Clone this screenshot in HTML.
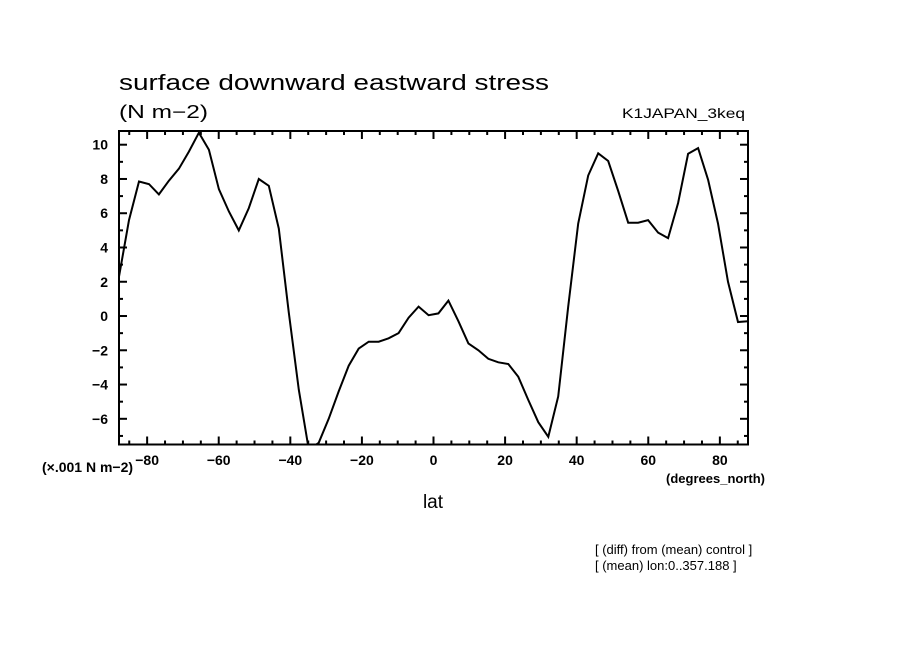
<!DOCTYPE html>
<html><head><meta charset="utf-8">
<style>
html,body{margin:0;padding:0;background:#fff;}
svg text{font-family:"Liberation Sans",sans-serif;fill:#000;}
</style></head>
<body>
<svg id="chart" width="904" height="654" xmlns="http://www.w3.org/2000/svg">
<rect width="904" height="654" fill="#fff"/>
<text x="119" y="90" font-size="22" textLength="430" lengthAdjust="spacingAndGlyphs">surface downward eastward stress</text>
<text x="119" y="118" font-size="18" textLength="89" lengthAdjust="spacingAndGlyphs">(N m−2)</text>
<text x="745" y="118" font-size="14" text-anchor="end" textLength="123" lengthAdjust="spacingAndGlyphs">K1JAPAN_3keq</text>
<g id="ticks"></g>
<g id="labels" font-size="14" font-weight="bold"></g>
<defs><clipPath id="clip"><rect x="119" y="131" width="629" height="313.5"/></clipPath></defs>
<path id="series" fill="none" stroke="#000" stroke-width="2" clip-path="url(#clip)"/>
<rect x="119" y="131" width="629" height="313.5" fill="none" stroke="#000" stroke-width="2"/>
<text x="42" y="472" font-size="14" font-weight="bold">(×.001 N m−2)</text>
<text x="765" y="483" font-size="13" font-weight="bold" text-anchor="end">(degrees_north)</text>
<text x="433" y="508" font-size="19" text-anchor="middle">lat</text>
<text x="595" y="554" font-size="13">[ (diff) from (mean) control ]</text>
<text x="595" y="570" font-size="13">[ (mean) lon:0..357.188 ]</text>
</svg>
<script>
const lats = [-87.86,-85.07,-82.28,-79.49,-76.70,-73.91,-71.12,-68.33,-65.54,-62.75,-59.96,-57.17,-54.38,-51.59,-48.80,-46.01,-43.22,-40.43,-37.64,-34.85,-32.06,-29.27,-26.48,-23.69,-20.90,-18.11,-15.32,-12.53,-9.74,-6.95,-4.16,-1.37,1.37,4.16,6.95,9.74,12.53,15.32,18.11,20.90,23.69,26.48,29.27,32.06,34.85,37.64,40.43,43.22,46.01,48.80,51.59,54.38,57.17,59.96,62.75,65.54,68.33,71.12,73.91,76.70,79.49,82.28,85.07,87.86];
const values = [2.3,5.6,7.85,7.7,7.1,7.9,8.6,9.6,10.7,9.7,7.4,6.1,5.0,6.3,8.0,7.6,5.1,0.2,-4.3,-7.8,-7.4,-6.0,-4.4,-2.9,-1.9,-1.5,-1.5,-1.3,-1.0,-0.1,0.55,0.05,0.15,0.9,-0.3,-1.6,-2.0,-2.5,-2.7,-2.8,-3.55,-4.9,-6.2,-7.05,-4.7,0.55,5.4,8.2,9.5,9.05,7.3,5.45,5.45,5.6,4.87,4.55,6.6,9.47,9.8,7.95,5.4,2.0,-0.35,-0.3];
const xTickLabels = [-80,-60,-40,-20,0,20,40,60,80];
const yTickLabels = [-6,-4,-2,0,2,4,6,8,10];
const X0=119,X1=748,Y0=444.5,Y1=131;
const xmin=-87.86,xmax=87.86,ymin=-7.5,ymax=10.8;
const xs=v=>X0+(v-xmin)/(xmax-xmin)*(X1-X0);
const ys=v=>Y0-(v-ymin)/(ymax-ymin)*(Y0-Y1);
const NS='http://www.w3.org/2000/svg';
let d='';
lats.forEach((la,i)=>{d+=(i?'L':'M')+xs(la).toFixed(1)+' '+ys(values[i]).toFixed(1);});
document.getElementById('series').setAttribute('d',d);
const tg=document.getElementById('ticks'), lg=document.getElementById('labels');
function line(x1,y1,x2,y2){const l=document.createElementNS(NS,'line');
l.setAttribute('x1',x1);l.setAttribute('y1',y1);l.setAttribute('x2',x2);l.setAttribute('y2',y2);
l.setAttribute('stroke','#000');l.setAttribute('stroke-width','2');


tg.appendChild(l);}
for(let v=-85;v<=85;v+=5){const x=xs(v);const L=(v%20===0)?8:4;line(x,Y0,x,Y0-L);line(x,Y1,x,Y1+L);}
for(let v=-7;v<=10;v+=1){const y=ys(v);const L=(v%2===0)?8:4;line(X0,y,X0+L,y);line(X1,y,X1-L,y);}
xTickLabels.forEach(v=>{const t=document.createElementNS(NS,'text');
t.setAttribute('x',xs(v));t.setAttribute('y',465);t.setAttribute('text-anchor','middle');
t.textContent=v<0?'−'+(-v):String(v);


lg.appendChild(t);});
yTickLabels.forEach(v=>{const t=document.createElementNS(NS,'text');
t.setAttribute('x',108);t.setAttribute('y',ys(v)+5);t.setAttribute('text-anchor','end');
t.textContent=v<0?'−'+(-v):String(v);


lg.appendChild(t);});
</script>
</body></html>
